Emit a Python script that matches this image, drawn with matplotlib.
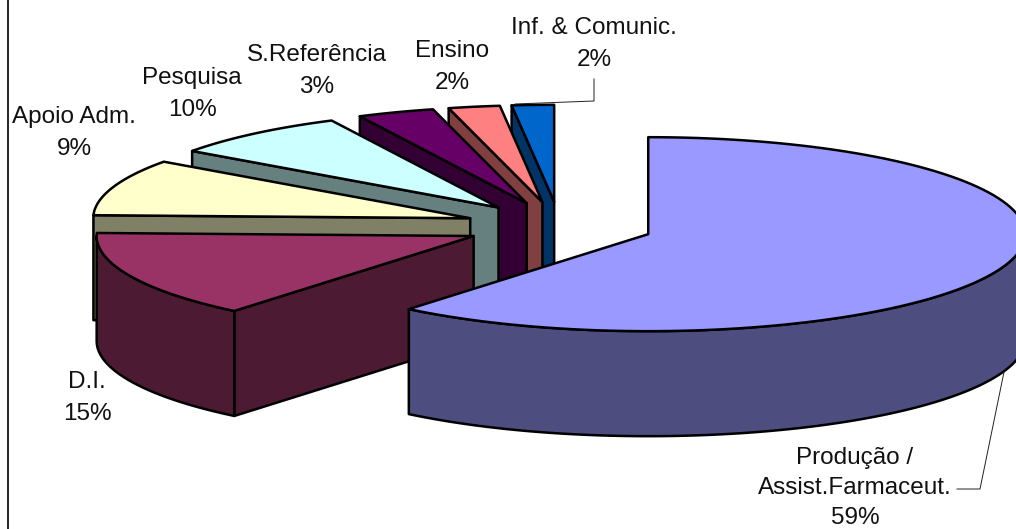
import matplotlib.pyplot as plt
import numpy as np

plt.rcParams['font.family'] = ['Liberation Sans', 'DejaVu Sans']

names = ['Produção /\nAssist.Farmaceut.', 'D.I.', 'Apoio Adm.', 'Pesquisa', 'S.Referência', 'Ensino', 'Inf. & Comunic.']
pct_labels = ['59%', '15%', '9%', '10%', '3%', '2%', '2%']
sizes = [60.95, 14.55, 9.4, 7.8, 3.3, 2.2, 1.8]
top_colors = ['#9999FF', '#993366', '#FFFFCC', '#CCFFFF', '#660066', '#FF8080', '#0066CC']
side_colors = ['#4D4D80', '#4D1A33', '#808066', '#668080', '#330033', '#804040', '#003366']
label_pos = [(855, 488), (87, 398), (74, 133), (192, 94), (317, 71), (452, 67), (594, 44)]

cx, cy = 559.5, 226
rx, ry = 377, 97
depth = 105
explode = 0.25

fig = plt.figure(figsize=(10.16, 5.29), dpi=100)
ax = fig.add_axes([0, 0, 1, 1])
ax.set_xlim(0, 1016)
ax.set_ylim(529, 0)
ax.axis('off')

edges = np.concatenate([[0], np.cumsum(sizes)]) / np.sum(sizes) * 2 * np.pi
lw = 1.8


def arc(x0, y0, t0, t1):
    t = np.linspace(t0, t1, 120)
    return x0 + rx * np.sin(t), y0 - ry * np.cos(t)


# back to front, so the last slices go first
for i in range(len(sizes) - 1, -1, -1):
    t0, t1 = edges[i], edges[i + 1]
    mid = (t0 + t1) / 2
    x0 = cx + explode * rx * np.sin(mid)
    y0 = cy - explode * ry * np.cos(mid)
    kw = dict(edgecolor='black', linewidth=lw, joinstyle='round', zorder=3 + (len(sizes) - i))

    # cut faces that look towards the viewer
    for t, n in [(t0, t0 - np.pi / 2), (t1, t1 + np.pi / 2)]:
        if np.cos(n) < -1e-6:
            xe = x0 + rx * np.sin(t)
            ye = y0 - ry * np.cos(t)
            ax.fill([x0, xe, xe, x0], [y0, ye, ye + depth, y0 + depth], facecolor=side_colors[i], **kw)

    # outer wall, front half only
    a, b = max(t0, np.pi / 2), min(t1, 3 * np.pi / 2)
    if b > a:
        xr, yr = arc(x0, y0, a, b)
        ax.fill(np.r_[xr, xr[::-1]], np.r_[yr, yr[::-1] + depth], facecolor=side_colors[i], **kw)

    # top
    xa, ya = arc(x0, y0, t0, t1)
    ax.fill(np.r_[x0, xa], np.r_[y0, ya], facecolor=top_colors[i], **kw)

# leader lines
ax.plot([515, 594, 594], [104, 101, 79], color='#222222', lw=0.7, zorder=20)
ax.plot([1004, 980, 957], [372, 489, 489], color='#222222', lw=0.7, zorder=20)

# left frame line
ax.axvline(7.5, color='black', lw=1.2, zorder=20)

for i, (name, pct, (lx, ly)) in enumerate(zip(names, pct_labels, label_pos)):
    # three line label sits right at the bottom edge, keep it a bit tighter
    ax.text(lx, ly, name + '\n' + pct, ha='center', va='center', fontsize=17.5,
            linespacing=1.48 if i == 0 else 1.56, color='#111111', zorder=21)

fig.savefig('out.png', dpi=100)
